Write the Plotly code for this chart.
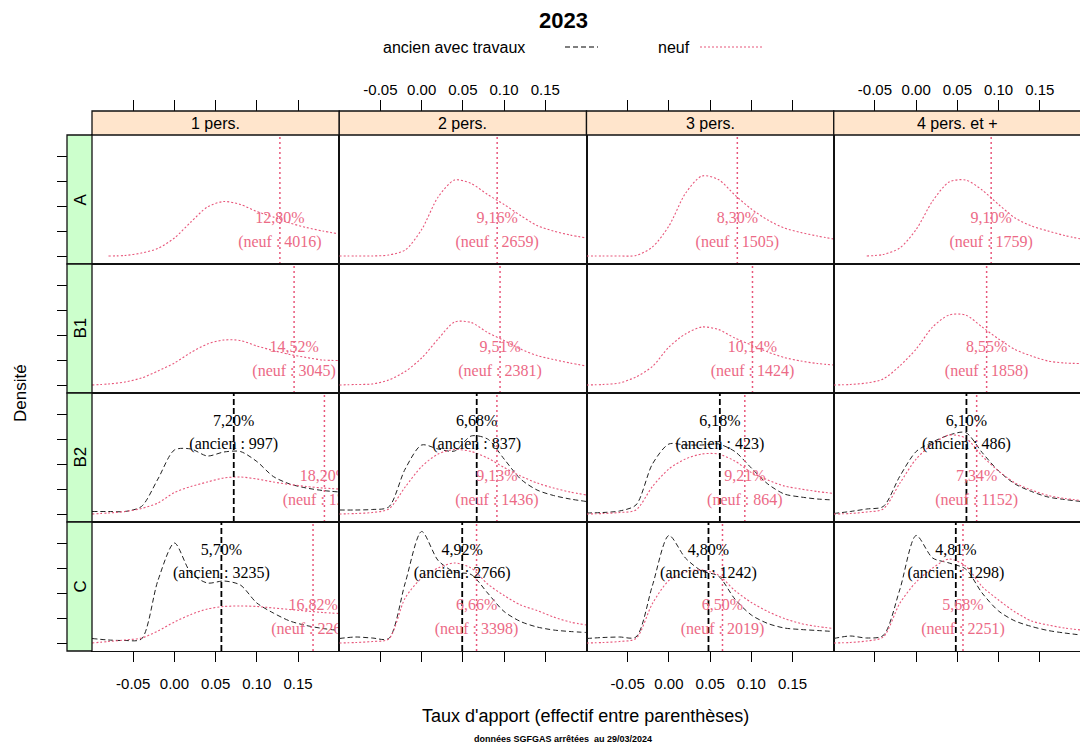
import plotly.graph_objects as go

W, H = 1080, 747

# ---------------- data ----------------
col_labels = ["1 pers.", "2 pers.", "3 pers.", "4 pers. et +"]
row_labels = ["A", "B1", "B2", "C"]
tick_vals = [-0.05, 0.00, 0.05, 0.10, 0.15]
tick_text = ["-0.05", "0.00", "0.05", "0.10", "0.15"]
x_grid = [-0.10, -0.08, -0.06, -0.04, -0.02, 0.00, 0.02, 0.04, 0.06, 0.08,
          0.10, 0.12, 0.14, 0.16, 0.18, 0.20]

# density curves of "neuf" per row, one list per household column
neuf_A = [
    [None, 0.0, 0.1, 0.6, 1.5, 3.6, 6.8, 9.8, 10.9, 10.3, 8.9, 7.8, 6.6, 5.7, 5.0, 4.4],
    [0.0, 0.0, 0.0, 0.2, 1.2, 5.3, 11.8, 15.2, 14.5, 12.3, 10.3, 8.1, 6.1, 5.0, 4.2, 3.6],
    [0.0, 0.0, 0.0, 0.1, 1.8, 6.0, 12.5, 16.0, 15.3, 12.2, 9.4, 7.2, 5.6, 4.7, 4.0, 3.4],
    [None, None, 0.0, 0.3, 1.6, 5.3, 11.0, 14.8, 15.2, 13.2, 10.3, 7.6, 6.0, 5.0, 4.1, 3.4],
]
neuf_B1 = [
    [0.0, 0.2, 0.6, 1.4, 2.8, 4.4, 6.5, 8.2, 9.0, 8.9, 7.8, 6.9, 6.1, 5.5, 5.0, 4.9],
    [0.0, 0.1, 0.2, 1.0, 2.7, 5.4, 9.2, 12.6, 12.5, 10.5, 8.9, 7.2, 5.9, 5.1, 4.4, 3.8],
    [0.0, 0.1, 0.4, 1.6, 3.7, 7.6, 10.2, 11.6, 11.1, 9.4, 8.0, 6.6, 5.5, 4.8, 4.3, 4.0],
    [0.0, 0.1, 0.4, 1.2, 3.8, 7.2, 11.6, 14.0, 14.0, 11.6, 9.2, 7.1, 5.8, 4.8, 4.4, 4.3],
]
neuf_B2 = [
    [0.0, 0.2, 0.5, 1.1, 2.2, 4.3, 5.5, 6.4, 7.2, 7.4, 7.0, 6.4, 5.9, 5.5, 5.2, 5.0],
    [0.0, 0.1, 0.3, 1.0, 5.4, 9.5, 12.0, 12.9, 12.5, 11.2, 9.3, 7.6, 6.2, 5.2, 4.4, 3.8],
    [0.0, 0.1, 0.3, 0.8, 5.5, 9.0, 11.0, 12.0, 12.0, 10.6, 8.3, 6.8, 5.6, 5.0, 4.5, 4.1],
    [0.0, 0.1, 0.4, 1.0, 6.1, 11.0, 14.0, 15.8, 15.2, 11.6, 8.6, 6.2, 4.8, 3.7, 3.1, 2.7],
]
neuf_C = [
    [0.0, 0.3, 0.6, 1.0, 2.4, 4.2, 5.7, 6.8, 7.3, 7.4, 7.3, 7.0, 6.7, 6.4, 6.1, 5.9],
    [0.0, 0.1, 0.3, 0.8, 9.0, 13.0, 15.0, 16.0, 15.0, 11.8, 9.5, 7.6, 6.5, 5.2, 4.2, 3.6],
    [0.0, 0.1, 0.3, 0.9, 7.9, 12.5, 14.2, 14.6, 13.6, 10.5, 8.1, 6.3, 4.9, 3.9, 3.3, 2.9],
    [0.0, 0.1, 0.4, 1.2, 7.9, 12.2, 15.0, 16.8, 15.4, 11.3, 8.6, 6.2, 4.4, 3.6, 3.0, 2.6],
]
# density curves of "ancien avec travaux" (only rows B2 and C)
ancien_B2 = [
    [0.5, 0.5, 0.5, 1.5, 7.0, 12.8, 13.0, 11.6, 12.4, 12.5, 10.5, 7.5, 6.0, 5.2, 4.7, 4.4],
    [0.8, 0.8, 0.9, 1.4, 9.0, 13.8, 13.0, 12.6, 15.6, 15.0, 11.0, 7.0, 4.8, 3.7, 3.0, 2.5],
    [0.2, 0.3, 0.6, 1.8, 10.0, 14.0, 13.8, 13.8, 14.0, 12.5, 9.2, 6.0, 4.0, 3.4, 3.0, 2.8],
    [0.1, 0.5, 1.0, 1.5, 7.5, 12.5, 14.4, 15.8, 16.3, 12.3, 8.6, 6.0, 4.5, 3.4, 2.9, 2.5],
]
ancien_C = [
    [0.9, 0.6, 0.5, 0.8, 12.5, 20.0, 14.0, 12.0, 12.4, 11.6, 8.0, 6.0, 4.4, 3.5, 2.9, 2.5],
    [0.9, 1.2, 1.0, 0.9, 12.0, 22.3, 16.5, 14.2, 13.7, 10.0, 6.3, 4.3, 3.2, 2.6, 2.3, 2.1],
    [0.9, 1.1, 1.2, 1.2, 11.5, 21.5, 17.0, 14.4, 13.4, 8.8, 5.6, 3.9, 3.0, 2.7, 2.5, 2.3],
    [0.9, 1.4, 1.0, 1.5, 10.6, 21.5, 17.0, 16.0, 14.8, 10.0, 6.4, 4.4, 3.3, 2.5, 2.0, 1.6],
]

# median contribution rates (%) and counts
neuf_rate_A = [12.80, 9.16, 8.30, 9.10]
neuf_rate_B1 = [14.52, 9.51, 10.14, 8.55]
neuf_rate_B2 = [18.20, 9.13, 9.21, 7.34]
neuf_rate_C = [16.82, 6.66, 6.50, 5.68]
neuf_n_A = [4016, 2659, 1505, 1759]
neuf_n_B1 = [3045, 2381, 1424, 1858]
neuf_n_B2 = [1290, 1436, 864, 1152]
neuf_n_C = [2262, 3398, 2019, 2251]
ancien_rate_B2 = [7.20, 6.68, 6.18, 6.10]
ancien_rate_C = [5.70, 4.92, 4.80, 4.81]
ancien_n_B2 = [997, 837, 423, 486]
ancien_n_C = [3235, 2766, 1242, 1298]

neuf_curves = [neuf_A, neuf_B1, neuf_B2, neuf_C]
ancien_curves = [None, None, ancien_B2, ancien_C]
neuf_rates = [neuf_rate_A, neuf_rate_B1, neuf_rate_B2, neuf_rate_C]
neuf_ns = [neuf_n_A, neuf_n_B1, neuf_n_B2, neuf_n_C]
ancien_rates = [None, None, ancien_rate_B2, ancien_rate_C]
ancien_ns = [None, None, ancien_n_B2, ancien_n_C]

# ---------------- styling ----------------
PINK = "#E8577B"
PINK_TXT = "#EC6A86"
SERIF = "Liberation Serif"
SANS = "Liberation Sans"
Y_RANGE = [-1.6, 24.2]
Y_TICKS = [0, 5, 10, 15, 20]
Y_PCT_ANC, Y_N_ANC, Y_PCT_NEUF, Y_N_NEUF = 18.5, 13.9, 7.4, 2.7

PL, PW = 92.0, 247.25          # panel left, panel width (px)
ROW_TOPS = [135, 264, 393, 522]
PH = 129
STRIP_TOP = 111


def px(x):
    return x / W


def py(y):
    return 1 - y / H


def fmt(v):
    return f"{v:.2f}".replace(".", ",") + "%"


fig = go.Figure()
layout = {}
shapes = []
annotations = []

for r in range(4):
    for c in range(4):
        i = r * 4 + c + 1
        xs = "" if i == 1 else str(i)
        left = PL + c * PW
        right = min(float(W), PL + (c + 1) * PW)
        xr_end = -0.1 + 0.3 * (right - left) / PW
        top = ROW_TOPS[r]
        xa = dict(domain=[px(left), px(right)], range=[-0.1, xr_end], anchor="y" + xs,
                  showgrid=False, zeroline=False, showline=True, mirror=True,
                  linecolor="#111111", linewidth=1.3, tickvals=tick_vals, ticktext=tick_text,
                  tickfont=dict(family=SANS, size=15, color="black"),
                  tickcolor="black", tickwidth=1)
        if r == 0:
            xa.update(side="top", ticks="outside", ticklen=34,
                      showticklabels=(c in (1, 3)), ticklabelstandoff=-1)
        elif r == 3:
            xa.update(side="bottom", ticks="outside", ticklen=10,
                      showticklabels=(c in (0, 2)), ticklabelstandoff=9)
        else:
            xa.update(ticks="", showticklabels=False)
        ya = dict(domain=[py(top + PH), py(top)], range=Y_RANGE, anchor="x" + xs,
                  showgrid=False, zeroline=False, showline=True, mirror=True,
                  linecolor="#111111", linewidth=1.3, tickvals=Y_TICKS,
                  showticklabels=False, tickcolor="black", tickwidth=1,
                  ticks="outside" if c == 0 else "", ticklen=34)
        layout["xaxis" + xs] = xa
        layout["yaxis" + xs] = ya

        axx, axy = "x" + xs, "y" + xs

        # ancien curve
        if ancien_curves[r] is not None:
            fig.add_trace(go.Scatter(x=x_grid, y=ancien_curves[r][c], mode="lines",
                                     line=dict(color="#222222", width=1, dash="5px,3px",
                                               shape="spline", smoothing=0.8),
                                     xaxis=axx, yaxis=axy, showlegend=False,
                                     hoverinfo="skip"))
        # neuf curve
        fig.add_trace(go.Scatter(x=x_grid, y=neuf_curves[r][c], mode="lines",
                                 line=dict(color=PINK, width=1.1, dash="2px,2px",
                                           shape="spline", smoothing=0.8),
                                 xaxis=axx, yaxis=axy, showlegend=False,
                                 hoverinfo="skip"))
        # vertical lines
        if ancien_rates[r] is not None:
            va = ancien_rates[r][c] / 100
            fig.add_trace(go.Scatter(x=[va, va], y=Y_RANGE, mode="lines",
                                     line=dict(color="black", width=1.8, dash="6px,3px"),
                                     xaxis=axx, yaxis=axy, showlegend=False,
                                     hoverinfo="skip"))
        vn = neuf_rates[r][c] / 100
        fig.add_trace(go.Scatter(x=[vn, vn], y=Y_RANGE, mode="lines",
                                 line=dict(color=PINK, width=1.5, dash="2px,3px"),
                                 xaxis=axx, yaxis=axy, showlegend=False,
                                 hoverinfo="skip"))
        # labels
        if ancien_rates[r] is not None:
            va = ancien_rates[r][c] / 100
            fig.add_trace(go.Scatter(
                x=[va, va], y=[Y_PCT_ANC, Y_N_ANC], mode="text",
                text=[fmt(ancien_rates[r][c]), f"(ancien : {ancien_ns[r][c]})"],
                textposition="middle center",
                textfont=dict(family=SERIF, size=16, color="black"),
                xaxis=axx, yaxis=axy, showlegend=False, hoverinfo="skip",
                cliponaxis=True))
        fig.add_trace(go.Scatter(
            x=[vn, vn], y=[Y_PCT_NEUF, Y_N_NEUF], mode="text",
            text=[fmt(neuf_rates[r][c]), f"(neuf : {neuf_ns[r][c]})"],
            textposition="middle center",
            textfont=dict(family=SERIF, size=16, color=PINK_TXT),
            xaxis=axx, yaxis=axy, showlegend=False, hoverinfo="skip",
            cliponaxis=True))

# strips (top: household size, left: zone)
for c in range(4):
    left = PL + c * PW
    right = PL + (c + 1) * PW
    shapes.append(dict(type="rect", xref="paper", yref="paper",
                       x0=px(left), x1=px(right), y0=py(ROW_TOPS[0]), y1=py(STRIP_TOP),
                       fillcolor="#FFE5CC", line=dict(color="#111111", width=1.3), layer="above"))
    annotations.append(dict(xref="paper", yref="paper", x=px((left + right) / 2),
                            y=py((ROW_TOPS[0] + STRIP_TOP) / 2), text=col_labels[c],
                            showarrow=False, font=dict(family=SANS, size=16, color="black"),
                            xanchor="center", yanchor="middle"))
for r in range(4):
    top = ROW_TOPS[r]
    shapes.append(dict(type="rect", xref="paper", yref="paper",
                       x0=px(67), x1=px(PL), y0=py(top + PH), y1=py(top),
                       fillcolor="#CCFFCC", line=dict(color="#111111", width=1.3), layer="above"))
    annotations.append(dict(xref="paper", yref="paper", x=px(80), y=py(top + PH / 2),
                            text=row_labels[r], textangle=-90, showarrow=False,
                            font=dict(family=SANS, size=17, color="black"),
                            xanchor="center", yanchor="middle"))

# title, legend, axis titles, source
annotations += [
    dict(xref="paper", yref="paper", x=px(563), y=py(20), text="<b>2023</b>", showarrow=False,
         font=dict(family=SANS, size=22, color="black"), xanchor="center", yanchor="middle"),
    dict(xref="paper", yref="paper", x=px(454), y=py(47), text="ancien avec travaux",
         showarrow=False, font=dict(family=SANS, size=16, color="black"),
         xanchor="center", yanchor="middle"),
    dict(xref="paper", yref="paper", x=px(674), y=py(47), text="neuf",
         showarrow=False, font=dict(family=SANS, size=16, color="black"),
         xanchor="center", yanchor="middle"),
    dict(xref="paper", yref="paper", x=px(585), y=py(716),
         text="Taux d'apport (effectif entre parenthèses)", showarrow=False,
         font=dict(family=SANS, size=18, color="black"), xanchor="center", yanchor="middle"),
    dict(xref="paper", yref="paper", x=px(563), y=py(739),
         text="<b>données SGFGAS arrêtées  au 29/03/2024</b>", showarrow=False,
         font=dict(family=SANS, size=9, color="black"), xanchor="center", yanchor="middle"),
    dict(xref="paper", yref="paper", x=px(20), y=py(393), text="Densité", textangle=-90,
         showarrow=False, font=dict(family=SANS, size=17, color="black"),
         xanchor="center", yanchor="middle"),
]
shapes += [
    dict(type="line", xref="paper", yref="paper", x0=px(565), x1=px(598), y0=py(47), y1=py(47),
         line=dict(color="black", width=1.2, dash="5px,3px")),
    dict(type="line", xref="paper", yref="paper", x0=px(700), x1=px(764), y0=py(47), y1=py(47),
         line=dict(color=PINK, width=1.2, dash="2px,2px")),
]

fig.update_layout(width=W, height=H, margin=dict(l=0, r=0, t=0, b=0),
                  paper_bgcolor="white", plot_bgcolor="white",
                  shapes=shapes, annotations=annotations, **layout)

fig.write_html("out.html")
